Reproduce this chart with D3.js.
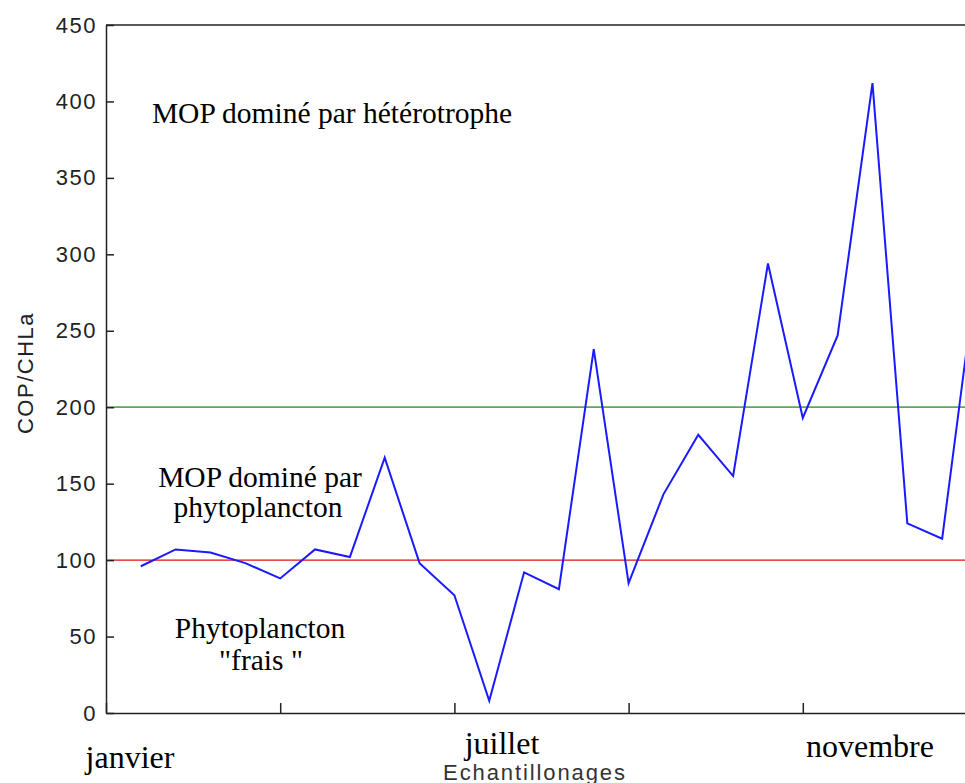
<!DOCTYPE html>
<html>
<head>
<meta charset="utf-8">
<script src="https://cdn.jsdelivr.net/npm/d3@7"></script>
<style>
  body { margin: 0; background: #fff; }
  svg { display: block; }
</style>
</head>
<body>
<div id="chart"></div>
<script>
// sample values (COP/CHLa), one per sampling
var samples = [1,2,3,4,5,6,7,8,9,10,11,12,13,14,15,16,17,18,19,20,21,22,23,24,25];
var copChla = [96,107,105,98,88,107,102,167,98,77,8,92,81,238,85,143,182,155,294,193,247,412,124,114,290];
var yTicks = [0,50,100,150,200,250,300,350,400,450];
var xTicks = [0,5,10,15,20,25];
var thresholds = [100, 200];
var thresholdColors = ["#e01010", "#5aaa5a"];
var months = ["janvier", "juillet", "novembre"];

var W = 965, H = 783;
var plotL = 106, plotR = 977, plotT = 25, plotB = 713;

var svg = d3.select("#chart")
  .append("svg")
  .attr("width", W)
  .attr("height", H);

var x = d3.scaleLinear().domain([0, 25]).range([plotL, plotR]);
var y = d3.scaleLinear().domain([0, 450]).range([plotB, plotT]);

// top frame line
svg.append("line")
  .attr("x1", plotL).attr("x2", plotR)
  .attr("y1", plotT).attr("y2", plotT)
  .style("stroke", "#222")
  .style("stroke-width", 1.5);

// threshold lines
svg.selectAll(".thr")
  .data(thresholds)
  .enter().append("line")
  .attr("class", "thr")
  .attr("x1", plotL).attr("x2", plotR)
  .attr("y1", function(d){ return y(d); })
  .attr("y2", function(d){ return y(d); })
  .style("stroke", function(d, i){ return thresholdColors[i]; })
  .style("stroke-width", function(d, i){ return i == 0 ? 1.2 : 1.7; });

// data line
var line = d3.line()
  .x(function(d, i){ return x(samples[i]); })
  .y(function(d){ return y(d); });

svg.append("path")
  .datum(copChla)
  .attr("d", line)
  .style("fill", "none")
  .style("stroke", "#1a1aff")
  .style("stroke-width", 2);

// y axis
var yAxis = svg.append("g")
  .attr("transform", "translate(" + plotL + ",0)")
  .style("color", "#222")
  .call(d3.axisLeft(y).tickValues(yTicks).tickSizeInner(-8).tickSizeOuter(0).tickPadding(9));
yAxis.selectAll("text")
  .style("font-family", "Liberation Sans, Arial, sans-serif")
  .style("font-size", "22px")
  .style("letter-spacing", "1.5px")
  .style("fill", "#222");
yAxis.select(".domain").style("stroke-width", 1.5);
yAxis.selectAll(".tick line").style("stroke-width", 1.5);

// x axis, ticks only
var xAxis = svg.append("g")
  .attr("transform", "translate(0," + plotB + ")")
  .style("color", "#222")
  .call(d3.axisBottom(x).tickValues(xTicks).tickSizeInner(-10).tickSizeOuter(0).tickFormat(""));
xAxis.select(".domain").style("stroke-width", 1.5);
xAxis.selectAll(".tick line").style("stroke-width", 1.5);

// axis titles
svg.append("text")
  .attr("transform", "translate(33,373) rotate(-90)")
  .attr("text-anchor", "middle")
  .style("font-family", "Liberation Sans, Arial, sans-serif")
  .style("font-size", "22px")
  .style("letter-spacing", "1.5px")
  .style("fill", "#222")
  .text("COP/CHLa");

svg.append("text")
  .attr("x", 535).attr("y", 780)
  .attr("text-anchor", "middle")
  .style("font-family", "Liberation Sans, Arial, sans-serif")
  .style("font-size", "22px")
  .style("letter-spacing", "1.9px")
  .style("fill", "#333")
  .text("Echantillonages");

// month labels
var monthPos = [[130, 768], [502, 754], [870, 757]];
svg.selectAll(".month")
  .data(months)
  .enter().append("text")
  .attr("class", "month")
  .attr("x", function(d, i){ return monthPos[i][0]; })
  .attr("y", function(d, i){ return monthPos[i][1]; })
  .attr("text-anchor", "middle")
  .style("font-family", "Liberation Serif, Times New Roman, serif")
  .style("font-size", "32px")
  .style("fill", "#000")
  .text(function(d){ return d; });

// zone annotations
var notes = [
  ["MOP dominé par hétérotrophe", 332, 123],
  ["MOP dominé par", 260, 487],
  ["phytoplancton", 258, 517],
  ["Phytoplancton", 260, 638],
  ["\"frais \"", 261, 670]
];
svg.selectAll(".note")
  .data(notes)
  .enter().append("text")
  .attr("class", "note")
  .attr("x", function(d){ return d[1]; })
  .attr("y", function(d){ return d[2]; })
  .attr("text-anchor", "middle")
  .style("font-family", "Liberation Serif, Times New Roman, serif")
  .style("font-size", "29.5px")
  .style("fill", "#000")
  .text(function(d){ return d[0]; });
</script>
</body>
</html>
